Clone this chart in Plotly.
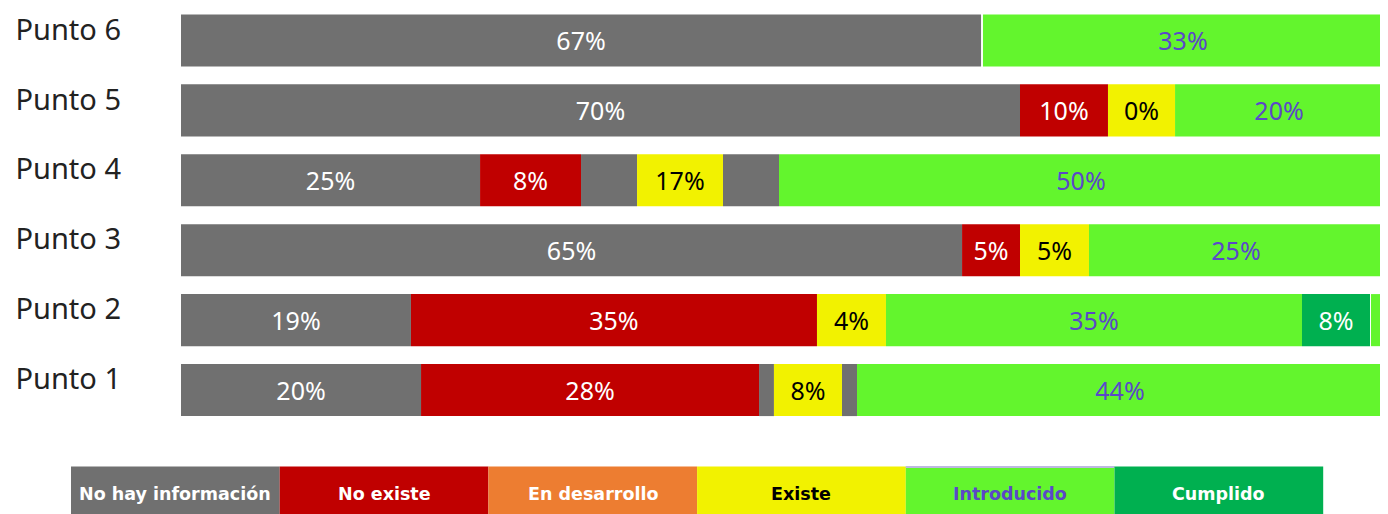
import plotly.graph_objects as go

# ---------------- data ----------------
rows = ["Punto 1", "Punto 2", "Punto 3", "Punto 4", "Punto 5", "Punto 6"]

statuses = ["No hay información", "No existe", "En desarrollo", "Existe", "Introducido", "Cumplido"]
status_colors = ["#707070", "#C00000", "#ED7D31", "#F2F200", "#63F52D", "#00B050"]
label_colors = ["#FFFFFF", "#FFFFFF", "#FFFFFF", "#000000", "#5B48C8", "#FFFFFF"]

# segments per row (spans as drawn, in % of bar length), with printed labels
punto1_status = ["No hay información", "No existe", "No hay información", "Existe", "No hay información", "Introducido"]
punto1_start = [0.0, 19.97, 48.09, 49.33, 54.99, 56.24]
punto1_end = [19.97, 48.09, 49.33, 54.99, 56.24, 100.0]
punto1_label = ["20%", "28%", "", "8%", "", "44%"]

punto2_status = ["No hay información", "No existe", "Existe", "Introducido", "Cumplido", "Introducido"]
punto2_start = [0.0, 19.13, 52.91, 58.65, 93.26, 99.0]
punto2_end = [19.13, 52.91, 58.65, 93.26, 98.92, 100.0]
punto2_label = ["19%", "35%", "4%", "35%", "8%", ""]

punto3_status = ["No hay información", "No existe", "Existe", "Introducido"]
punto3_start = [0.0, 64.98, 69.80, 75.54]
punto3_end = [64.98, 69.80, 75.54, 100.0]
punto3_label = ["65%", "5%", "5%", "25%"]

punto4_status = ["No hay información", "No existe", "No hay información", "Existe", "No hay información", "Introducido"]
punto4_start = [0.0, 24.88, 33.28, 37.94, 45.09, 49.75]
punto4_end = [24.88, 33.28, 37.94, 45.09, 49.75, 100.0]
punto4_label = ["25%", "8%", "", "17%", "", "50%"]

punto5_status = ["No hay información", "No existe", "Existe", "Introducido"]
punto5_start = [0.0, 69.80, 77.12, 82.70]
punto5_end = [69.80, 77.12, 82.70, 100.0]
punto5_label = ["70%", "10%", "0%", "20%"]

punto6_status = ["No hay información", "Introducido"]
punto6_start = [0.0, 66.72]
punto6_end = [66.56, 100.0]
punto6_label = ["67%", "33%"]

row_data = [
    (punto1_status, punto1_start, punto1_end, punto1_label),
    (punto2_status, punto2_start, punto2_end, punto2_label),
    (punto3_status, punto3_start, punto3_end, punto3_label),
    (punto4_status, punto4_start, punto4_end, punto4_label),
    (punto5_status, punto5_start, punto5_end, punto5_label),
    (punto6_status, punto6_start, punto6_end, punto6_label),
]

# ---------------- figure ----------------
fig = go.Figure()

for si, status in enumerate(statuses):
    ys, bases, widths, texts = [], [], [], []
    for row, (st, s0, s1, lab) in zip(rows, row_data):
        for k in range(len(st)):
            if st[k] == status:
                ys.append(row)
                bases.append(s0[k])
                widths.append(s1[k] - s0[k])
                texts.append(lab[k])
    if not ys:
        continue
    fig.add_trace(go.Bar(
        y=ys, x=widths, base=bases, orientation="h", name=status,
        marker=dict(color=status_colors[si], line=dict(width=0)),
        text=texts, textposition="inside", insidetextanchor="middle",
        textangle=0, constraintext="none",
        textfont=dict(family="Noto Sans", size=25, color=label_colors[si]),
        width=0.745, showlegend=False, hoverinfo="skip",
    ))

# page body has an 8px margin: work in screen pixels and offset
OFF = 8
W, H = 1388 - OFF, 514 - OFF
PLOT_L, PLOT_R = 181 - OFF, 1383 - OFF
PLOT_T, PLOT_B = 12 - OFF, 425.5 - OFF
Y_TOP = 5.5 - 6.5 / 70.0

fig.update_layout(
    width=W, height=H,
    margin=dict(l=PLOT_L, r=W - PLOT_R, t=PLOT_T, b=H - PLOT_B, pad=0, autoexpand=False),
    barmode="overlay",
    plot_bgcolor="white", paper_bgcolor="white",
    xaxis=dict(range=[0, 100], visible=False, fixedrange=True, automargin=False),
    yaxis=dict(
        type="category", categoryorder="array", categoryarray=rows,
        range=[-0.5, Y_TOP], showgrid=False, zeroline=False, showline=False,
        automargin=False,
        ticks="", ticklabelstandoff=59, ticklabelshift=-11,
        tickfont=dict(family="Noto Sans", size=29, color="#222222"),
    ),
)

# ---------------- custom legend (colored boxes under the chart) ----------------
def px_x(p):
    return (p - OFF - PLOT_L) / (PLOT_R - PLOT_L)

def px_y(p):
    return (PLOT_B - (p - OFF)) / (PLOT_B - PLOT_T)

box_left, box_w = 71, 208.7
box_top, box_bot = 467, 530
for i, status in enumerate(statuses):
    x0 = box_left + i * box_w
    x1 = x0 + box_w
    fig.add_shape(type="rect", xref="paper", yref="paper",
                  x0=px_x(x0), x1=px_x(x1), y0=px_y(box_bot), y1=px_y(box_top),
                  fillcolor=status_colors[i], line=dict(width=0), layer="above")
    if status == "Introducido":
        fig.add_shape(type="line", xref="paper", yref="paper",
                      x0=px_x(x0), x1=px_x(x1), y0=px_y(box_top + 0.5), y1=px_y(box_top + 0.5),
                      line=dict(color="#BDB8E0", width=2), layer="above")
    fig.add_annotation(
        xref="paper", yref="paper", x=px_x((x0 + x1) / 2), y=px_y(495),
        text="<b>" + status + "</b>", showarrow=False, xanchor="center", yanchor="middle",
        font=dict(family="DejaVu Sans", size=17.5, color=label_colors[i]),
    )

fig.write_html("out.html")
